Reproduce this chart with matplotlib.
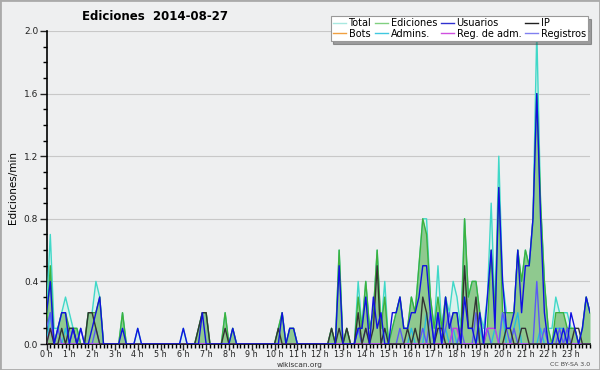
import matplotlib
matplotlib.use('Agg')
import matplotlib.pyplot as plt
from matplotlib.lines import Line2D
from matplotlib.patches import Rectangle
from matplotlib.ticker import MultipleLocator
import numpy as np

# one value per 10 minutes, edits/min
total = [0.2,0.7,0.1,0.1,0.2,0.3, 0.2,0.1,0.1,0,0,0.2, 0.2,0.4,0.3,0,0,0, 0,0,0.2,0,0,0,
         0.1,0,0,0,0,0, 0,0,0,0,0,0, 0.1,0,0,0,0.1,0.2, 0.2,0,0,0,0,0.2,
         0,0.1,0,0,0,0, 0,0,0,0,0,0, 0,0.1,0.2,0,0.1,0.1, 0,0,0,0,0,0,
         0,0,0,0.1,0,0.6, 0,0.1,0,0,0.4,0.1, 0.4,0.1,0.2,0.6,0.1,0.4, 0,0.1,0.2,0.3,0.1,0.1,
         0.3,0.2,0.5,0.8,0.8,0.3, 0.1,0.5,0.1,0.3,0.2,0.4, 0.3,0.1,0.8,0.3,0.4,0.4, 0.2,0.1,0.3,0.9,0.2,1.2,
         0.4,0.2,0.2,0.2,0.6,0.4, 0.6,0.5,0.8,2.0,0.9,0.4, 0.1,0.1,0.3,0.2,0.2,0.2, 0.1,0.1,0,0.1,0.3,0.2]
ediciones = [0.1,0.5,0,0.1,0.2,0.2, 0.1,0.1,0.1,0,0,0.2, 0.2,0.2,0.3,0,0,0, 0,0,0.2,0,0,0,
             0,0,0,0,0,0, 0,0,0,0,0,0, 0,0,0,0,0.1,0.2, 0.2,0,0,0,0,0.2,
             0,0.1,0,0,0,0, 0,0,0,0,0,0, 0,0.1,0.2,0,0.1,0.1, 0,0,0,0,0,0,
             0,0,0,0.1,0,0.6, 0,0.1,0,0,0.3,0.1, 0.4,0.1,0.2,0.6,0.1,0.3, 0,0.1,0.2,0.3,0.1,0.1,
             0.3,0.2,0.5,0.8,0.7,0.3, 0.1,0.3,0.1,0.3,0.1,0.2, 0.2,0,0.8,0.3,0.4,0.4, 0.2,0,0.1,0.6,0.2,1.0,
             0.2,0.2,0.2,0.2,0.6,0.4, 0.6,0.5,0.8,1.6,0.9,0.4, 0.1,0,0.2,0.2,0.2,0.1, 0.1,0.1,0,0.1,0.3,0.2]
usuarios = [0.2,0.4,0,0.1,0.2,0.2, 0,0.1,0,0.1,0,0, 0.1,0.2,0.3,0,0,0, 0,0,0.1,0,0,0,
            0.1,0,0,0,0,0, 0,0,0,0,0,0, 0.1,0,0,0,0,0.2, 0,0,0,0,0,0,
            0,0.1,0,0,0,0, 0,0,0,0,0,0, 0,0,0.2,0,0.1,0.1, 0,0,0,0,0,0,
            0,0,0,0,0,0.5, 0,0,0,0,0.1,0.1, 0.3,0,0.3,0.1,0.2,0, 0,0.2,0.2,0.3,0.1,0.1,
            0.2,0.2,0.3,0.5,0.5,0.2, 0,0.2,0,0.3,0.1,0.2, 0.2,0,0.3,0.1,0.1,0, 0.2,0,0.3,0.6,0.1,1.0,
            0.4,0.1,0.1,0.2,0.6,0.2, 0.5,0.5,0.8,1.6,0.8,0.2, 0,0,0.1,0,0.1,0, 0.2,0.1,0,0.1,0.3,0.2]
ip = [0,0.1,0,0,0.1,0, 0.1,0.1,0,0,0,0.2, 0.2,0.1,0,0,0,0, 0,0,0,0,0,0,
      0,0,0,0,0,0, 0,0,0,0,0,0, 0,0,0,0,0.1,0.2, 0.2,0,0,0,0,0.1,
      0,0,0,0,0,0, 0,0,0,0,0,0, 0,0.1,0,0,0,0, 0,0,0,0,0,0,
      0,0,0,0.1,0,0.1, 0,0.1,0,0,0.2,0, 0.1,0,0.1,0.5,0,0.1, 0,0,0,0,0,0.1,
      0,0.1,0,0.3,0.2,0, 0,0.1,0.1,0,0,0, 0,0,0.5,0.1,0.1,0.3, 0,0,0,0,0,0,
      0,0.1,0.1,0,0,0.1, 0.1,0,0,0,0,0, 0,0,0,0,0,0, 0,0.1,0.1,0,0,0]
bots = [0.0] * 144
admins = [0,0.2,0,0,0,0.1, 0,0,0,0,0,0, 0,0,0,0,0,0, 0,0,0,0,0,0,
          0,0,0,0,0,0, 0,0,0,0,0,0, 0,0,0,0,0,0, 0,0,0,0,0,0,
          0,0,0,0,0,0, 0,0,0,0,0,0, 0,0,0,0,0,0, 0,0,0,0,0,0,
          0,0,0,0,0,0, 0,0,0,0,0.1,0, 0,0,0,0,0,0.1, 0,0,0,0,0,0,
          0.1,0,0,0,0.2,0, 0,0.2,0,0.1,0,0.1, 0,0,0,0,0,0, 0.1,0,0,0,0.1,0,
          0.2,0,0,0.1,0.2,0, 0,0,0,0,0.1,0, 0,0,0.1,0.1,0.1,0, 0,0,0,0,0,0]
reg_adm = [0,0.1,0,0,0,0, 0,0,0,0,0,0, 0,0,0,0,0,0, 0,0,0,0,0,0,
           0,0,0,0,0,0, 0,0,0,0,0,0, 0,0,0,0,0,0, 0,0,0,0,0,0,
           0,0,0,0,0,0, 0,0,0,0,0,0, 0,0,0,0,0,0, 0,0,0,0,0,0,
           0,0,0,0,0,0, 0,0,0,0,0,0, 0,0,0,0,0,0, 0,0,0,0,0,0,
           0,0,0,0,0,0, 0,0,0,0,0,0.1, 0.1,0,0,0,0,0, 0,0,0.1,0.1,0.1,0,
           0,0,0,0,0,0, 0,0,0,0,0,0, 0,0,0,0,0,0, 0,0,0,0,0,0]
registros = [0.1,0.2,0,0.1,0,0, 0,0.1,0,0.1,0,0, 0,0.1,0,0,0,0, 0,0,0,0,0,0,
             0,0,0,0,0,0, 0,0,0,0,0,0, 0,0,0,0,0,0, 0,0,0,0,0,0,
             0,0,0,0,0,0, 0,0,0,0,0,0, 0,0,0,0,0,0, 0,0,0,0,0,0,
             0,0,0,0,0,0, 0,0,0,0,0.1,0, 0.1,0,0,0,0,0, 0,0,0,0.1,0,0,
             0,0,0,0.1,0,0.2, 0,0.2,0,0.1,0.2,0, 0,0.1,0,0,0,0.2, 0,0,0.1,0,0,0,
             0.2,0.1,0,0.1,0,0, 0,0,0,0.4,0,0.1, 0,0,0,0.1,0,0.1, 0,0,0,0,0,0]

hours = np.arange(144) / 6.0
bg = '#eeeff0'

fig = plt.figure(figsize=(6, 3.7), dpi=100, facecolor=bg)
ax = fig.add_axes([46.5/600, 26/370, (590-46.5)/600, (344-31)/370])
ax.set_facecolor(bg)

ax.fill_between(hours, total, color='#d9f1ed', lw=0, zorder=1)
ax.fill_between(hours, ediciones, color='#8fc98f', lw=0, zorder=2)
ax.plot(hours, bots, color='#f0a040', lw=1, zorder=3)
ax.plot(hours, total, color='#40d8c8', lw=1, zorder=4)
ax.plot(hours, ediciones, color='#3db13d', lw=1, zorder=4)
ax.plot(hours, admins, color='#28bce0', lw=1, zorder=5)
ax.plot(hours, registros, color='#5a5af5', lw=1, zorder=5)
ax.plot(hours, reg_adm, color='#c83ce0', lw=1, zorder=5)
ax.plot(hours, ip, color='#333333', lw=1, zorder=6)
ax.plot(hours, usuarios, color='#1010e0', lw=1, zorder=7)

ax.set_xlim(0, 143/6.0)
ax.set_ylim(0, 2.0)
ax.set_xticks(range(24))
ax.set_xticklabels(['%d h' % h for h in range(24)])
ax.xaxis.set_minor_locator(MultipleLocator(1/6.0))
ax.yaxis.set_major_locator(MultipleLocator(0.4))
ax.yaxis.set_minor_locator(MultipleLocator(0.1))
ax.yaxis.set_major_formatter(plt.FormatStrFormatter('%.1f'))
ax.grid(axis='y', which='major', color='#c8c8c8', lw=0.8, zorder=0)
ax.set_axisbelow(True)
for s in ['top', 'right']:
    ax.spines[s].set_visible(False)
ax.spines['left'].set_linewidth(1.2)
ax.spines['bottom'].set_linewidth(1.2)
ax.tick_params(which='major', length=5, width=1, labelsize=6.5, colors='#222222', pad=1)
ax.tick_params(axis='x', which='major', length=4, labelsize=5.8, pad=0)
ax.tick_params(which='minor', length=3, width=1)
ax.set_ylabel('Ediciones/min', fontsize=7.5, labelpad=4)

fig.text(155/600, 1 - 17/370, 'Ediciones  2014-08-27', ha='center', va='center',
         fontsize=8.5, fontweight='bold')
fig.text(300/600, 1 - 364.5/370, 'wikiscan.org', ha='center', va='center', fontsize=5.3, color='#333333')
fig.text(590/600, 1 - 364/370, 'CC BY-SA 3.0', ha='right', va='center', fontsize=4.5, color='#444444')

labels = ['Total', 'Bots', 'Ediciones', 'Admins.', 'Usuarios', 'Reg. de adm.', 'IP', 'Registros']
colors = ['#a8e8e0', '#f0a040', '#80d080', '#40c8e0', '#3030d0', '#d050e0', '#202020', '#8080f0']
handles = [Line2D([], [], color=c, lw=1) for c in colors]
leg = fig.legend(handles, labels, ncol=4, loc='upper right',
                 bbox_to_anchor=(593/600, 1 - 11/370), fontsize=7,
                 handlelength=1.3, handletextpad=0.3, columnspacing=0.4,
                 labelspacing=0.05, borderpad=0.25, shadow=True, fancybox=False,
                 framealpha=1, edgecolor='#999999')
leg.get_frame().set_linewidth(0.8)

fig.patches.append(Rectangle((0, 0), 1, 1, transform=fig.transFigure, fill=False,
                             edgecolor='#aaaaaa', lw=2))

fig.savefig('out.png', dpi=100, facecolor=bg)
